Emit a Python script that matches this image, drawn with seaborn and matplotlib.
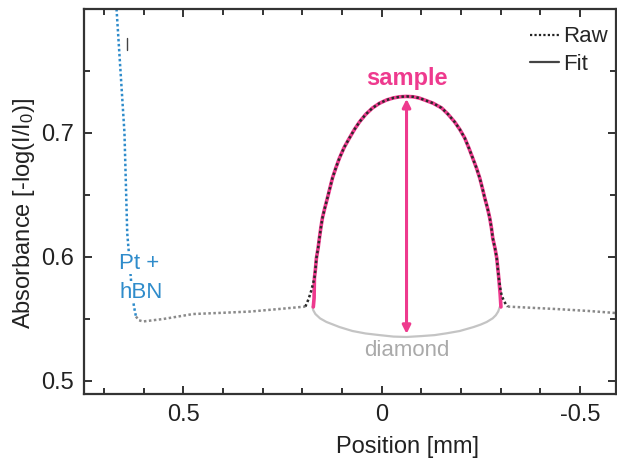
import matplotlib
matplotlib.use("Agg")
import matplotlib.pyplot as plt
import seaborn as sns
import pandas as pd
from matplotlib.lines import Line2D

# ---- data ----
pt_x = [0.670, 0.648, 0.641, 0.636, 0.630, 0.624, 0.619]
pt_y = [0.810, 0.700, 0.619, 0.600, 0.575, 0.560, 0.552]

flat_left_x = [0.619, 0.612, 0.601, 0.550, 0.475, 0.400, 0.331, 0.260, 0.192]
flat_left_y = [0.552, 0.549, 0.548, 0.550, 0.554, 0.555, 0.556, 0.558, 0.560]

dome_x = [0.1692, 0.1667, 0.1641, 0.1600, 0.1566, 0.1530, 0.1490, 0.1430, 0.1364,
          0.1300, 0.1237, 0.1150, 0.1061, 0.0940, 0.0808, 0.0680, 0.0556, 0.0400,
          0.0227, 0.0050, -0.0126, -0.0300, -0.0460, -0.0630, -0.0800, -0.0950,
          -0.1086, -0.1300, -0.1515, -0.1680, -0.1843, -0.1970, -0.2096, -0.2200,
          -0.2298, -0.2390, -0.2475, -0.2540, -0.2601, -0.2670, -0.2727, -0.2770,
          -0.2803, -0.2860, -0.2904, -0.2955]
dome_y = [0.5831, 0.5900, 0.5992, 0.6070, 0.6153, 0.6235, 0.6315, 0.6395, 0.6476,
          0.6557, 0.6637, 0.6720, 0.6798, 0.6885, 0.6960, 0.7030, 0.7089, 0.7150,
          0.7202, 0.7240, 0.7266, 0.7283, 0.7292, 0.7295, 0.7292, 0.7282,
          0.7266, 0.7240, 0.7202, 0.7150, 0.7089, 0.7030, 0.6960, 0.6880,
          0.6798, 0.6720, 0.6637, 0.6557, 0.6476, 0.6395, 0.6315, 0.6235,
          0.6153, 0.6070, 0.5992, 0.5831]

raw_left_x = [0.192, 0.184, 0.177]
raw_left_y = [0.560, 0.566, 0.573]
raw_right_x = [-0.3005, -0.3040, -0.3080, -0.3130, -0.3180]
raw_right_y = [0.5720, 0.5680, 0.5650, 0.5620, 0.5600]

fit_left_x = [0.1720, 0.1700]
fit_left_y = [0.5597, 0.5669]
fit_right_x = [-0.2990, -0.3010]
fit_right_y = [0.5700, 0.5597]

flat_right_x = [-0.318, -0.380, -0.442, -0.520, -0.583, -0.600]
flat_right_y = [0.5600, 0.5590, 0.5580, 0.5565, 0.5550, 0.5545]

diamond_x = [0.1742, 0.1720, 0.1667, 0.1550, 0.1389, 0.1220, 0.1060, 0.0732, 0.0400,
             0.0050, -0.0300, -0.0631, -0.1000, -0.1340, -0.1650, -0.1970, -0.2320,
             -0.2500, -0.2652, -0.2800, -0.2880, -0.2940, -0.2980]
diamond_y = [0.5597, 0.5570, 0.5540, 0.5505, 0.5476, 0.5455, 0.5435, 0.5403, 0.5383,
             0.5370, 0.5358, 0.5355, 0.5362, 0.5370, 0.5385, 0.5403, 0.5435,
             0.5455, 0.5476, 0.5505, 0.5530, 0.5560, 0.5597]

artifact_x = [0.641, 0.641]
artifact_y = [0.777, 0.767]

arrow_x = -0.063
arrow_top = 0.7275
arrow_bottom = 0.5380

legend_labels = ["Raw", "Fit"]

raw_x = raw_left_x + dome_x + raw_right_x
raw_y = raw_left_y + dome_y + raw_right_y
fit_x = fit_left_x + dome_x + fit_right_x
fit_y = fit_left_y + dome_y + fit_right_y

# ---- style ----
sns.set_style("ticks")
plt.rcParams["font.family"] = ["Liberation Sans", "DejaVu Sans"]
plt.rcParams["mathtext.fontset"] = "custom"
plt.rcParams["mathtext.rm"] = "Liberation Sans"
plt.rcParams["mathtext.it"] = "Liberation Sans"

PINK = "#ee3a8e"
BLUE = "#2f8ccb"
SPINE = "#333333"
FS = 17

fig = plt.figure(figsize=(6.17, 4.59), dpi=100)
ax = fig.add_axes([84 / 617, 1 - 394 / 459, (616 - 84) / 617, (394 - 9) / 459])

def line(xs, ys, **kw):
    df = pd.DataFrame({"x": xs, "y": ys})
    sns.lineplot(data=df, x="x", y="y", sort=False, estimator=None, ax=ax, **kw)

line(diamond_x, diamond_y, color="#c4c4c4", linewidth=1.6)
line(fit_x, fit_y, color=PINK, linewidth=2.6)
line(pt_x, pt_y, color=BLUE, linewidth=1.8, linestyle=(0, (1, 1)))
line(flat_left_x, flat_left_y, color="#8a8a8a", linewidth=1.8, linestyle=(0, (1, 1)))
line(flat_right_x, flat_right_y, color="#8a8a8a", linewidth=1.8, linestyle=(0, (1, 1)))
line(raw_x, raw_y, color="#2a2a2a", linewidth=1.8, linestyle=(0, (1, 1)))
line(artifact_x, artifact_y, color="#444444", linewidth=1.0)

ax.annotate("", xy=(arrow_x, arrow_bottom), xytext=(arrow_x, arrow_top),
            arrowprops=dict(arrowstyle="<|-|>", color=PINK, lw=2.2,
                            mutation_scale=12, shrinkA=0, shrinkB=0))

ax.text(arrow_x, 0.744, "sample", color=PINK, fontsize=FS, fontweight="bold",
        ha="center", va="center")
ax.text(arrow_x, 0.5245, "diamond", color="#aaaaaa", fontsize=FS - 1,
        ha="center", va="center")
wb = dict(facecolor="white", edgecolor="none", pad=0.5)
ax.text(0.661, 0.595, "Pt +", color=BLUE, fontsize=FS - 1, ha="left", va="center", bbox=wb)
ax.text(0.661, 0.5715, "hBN", color=BLUE, fontsize=FS - 1, ha="left", va="center", bbox=wb)

handles = [Line2D([], [], color="#222222", linestyle=(0, (1, 1)), linewidth=1.6),
           Line2D([], [], color="#444444", linewidth=1.6)]
ax.legend(handles, legend_labels, loc="upper right", frameon=False,
          fontsize=FS - 1, handlelength=1.3, handletextpad=0.2,
          labelspacing=0.3, borderaxespad=0.0, borderpad=0.0,
          bbox_to_anchor=(0.985, 0.955))

ax.set_xlim(0.75, -0.591)
ax.set_ylim(0.4895, 0.80)
ax.set_xticks([0.5, 0.0, -0.5])
ax.set_xticklabels(["0.5", "0", "-0.5"])
ax.set_xticks([0.7, 0.6, 0.4, 0.3, 0.2, 0.1, -0.1, -0.2, -0.3, -0.4], minor=True)
ax.set_yticks([0.5, 0.6, 0.7])
ax.set_yticklabels(["0.5", "0.6", "0.7"])
ax.set_yticks([0.55, 0.65, 0.75], minor=True)

for s in ax.spines.values():
    s.set_color(SPINE)
    s.set_linewidth(1.6)
ax.tick_params(which="both", direction="in", top=True, right=True,
               color=SPINE, width=1.4, labelsize=FS, labelcolor="#222222")
ax.tick_params(which="major", length=6, pad=7)
ax.tick_params(which="minor", length=4)

ax.set_xlabel("Position [mm]", fontsize=FS, color="#222222")
ax.set_ylabel(r"Absorbance [-log(I/I$_0$)]", fontsize=FS, color="#222222")
ax.xaxis.set_label_coords((407 - 84) / 532, -0.11)
ax.yaxis.set_label_coords(-0.088, 0.47)

fig.savefig("out.png", dpi=100)
